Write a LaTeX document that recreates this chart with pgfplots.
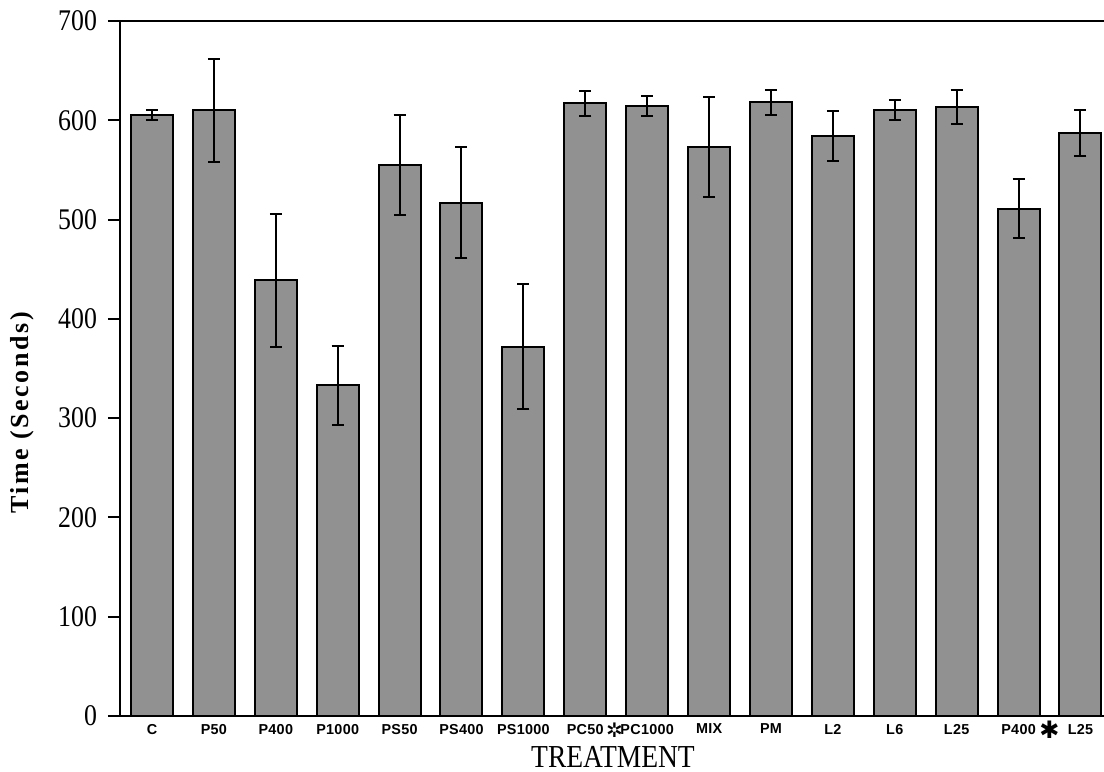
\documentclass[border=0pt]{standalone}
\usepackage{fontspec}
\setmainfont{Liberation Serif}
\newfontfamily\condserif[FakeStretch=0.86]{Liberation Serif}
\newfontfamily\labsans[LetterSpace=2]{Liberation Sans}
\newfontfamily\ylabfont[LetterSpace=10]{Liberation Serif}
\newfontfamily\symfont{DejaVu Sans}
\usepackage{pgfplots}
\pgfplotsset{compat=1.18}
\usepackage{pgfplotstable}
\definecolor{barfill}{RGB}{145,145,145}

\pgfplotstableread{
x y e
0 605 5
1 610 52
2 439 67
3 333 40
4 555 50
5 517 56
6 372 63
7 617 12.5
8 614 10
9 573 50
10 618 13
11 584 25
12 610 10
13 613 17
14 511 30
15 587 23
}\datatab

\begin{document}
\begin{tikzpicture}
\begin{axis}[
  name=ax,
  scale only axis,
  width=492pt, height=347.5pt,
  xmin=-0.517, xmax=15.38, ymin=0, ymax=700,
  axis x line=box, axis y line=left,
  axis line style={-, line width=1pt, black},
  ytick={0,100,...,700},
  tick align=outside,
  major tick length=6pt,
  ytick style={line width=1pt, black},
  xtick={0,...,15},
  xticklabels={C,P50,P400,P1000,PS50,PS400,PS1000,PC50,PC1000,MIX,PM,L2,L6,L25,P400,L25},
  xtick style={draw=none},
  xticklabel style={font=\labsans\bfseries\fontsize{7.2}{7.2}\selectfont, yshift=5.5pt},
  yticklabel style={font=\condserif\fontsize{15}{15}\selectfont, xshift=-2pt},
  /pgf/number format/assume math mode=true,
  xlabel={TREATMENT},
  xlabel style={font=\condserif\fontsize{16}{16}\selectfont, at={(axis description cs:0.501,-0.059)}, anchor=center},
  ylabel={Time (Seconds)},
  ylabel style={font=\ylabfont\bfseries\fontsize{13}{13}\selectfont, at={(axis description cs:-0.0995,0.436)}, anchor=center},
  clip=false,
]
\addplot[ybar, bar width=21pt, fill=barfill, draw=black, line width=1pt,
  error bars/.cd, y dir=both, y explicit,
  error bar style={line width=1pt, black},
  error mark options={rotate=90, mark size=3pt, line width=1pt, black}]
  table[x=x, y=y, y error=e] {\datatab};
\node[font=\symfont\bfseries\fontsize{10}{10}\selectfont, anchor=center, inner sep=0pt] at (axis cs:7.47,0) [yshift=-7pt] {✲};
\node[font=\symfont\bfseries\fontsize{12}{12}\selectfont, anchor=center, inner sep=0pt] at (axis cs:14.5,0) [yshift=-7pt] {✱};
\end{axis}
\pgfresetboundingbox
\useasboundingbox ([xshift=-60pt,yshift=-28pt]ax.south west) rectangle ([yshift=10.5pt]ax.north east);
\end{tikzpicture}
\end{document}
